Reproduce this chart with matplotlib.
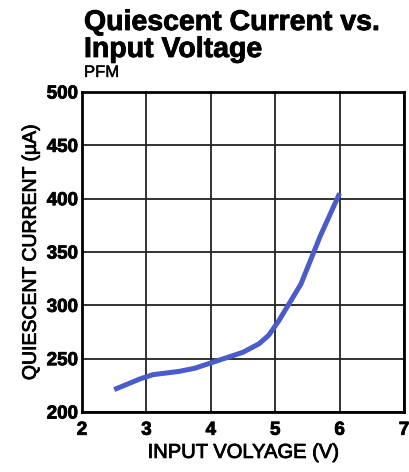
import matplotlib
matplotlib.use("Agg")
import matplotlib.pyplot as plt
import matplotlib.patheffects as pe

# input voltage (V) and quiescent current (uA)
vin = [2.5, 2.9, 3.1, 3.5, 3.75, 4.0, 4.25, 4.5, 4.75, 4.9, 5.05, 5.2, 5.4, 5.7, 6.0]
iq = [221, 231, 235, 238, 241, 246, 251, 256, 264, 272, 285, 300, 320, 365, 405]

x_ticks = [2, 3, 4, 5, 6, 7]
y_ticks = [200, 250, 300, 350, 400, 450, 500]

plt.rcParams["font.family"] = ["Liberation Sans", "DejaVu Sans"]

fig = plt.figure(figsize=(4.09, 4.72), dpi=100)
ax = fig.add_axes([82 / 409, 60 / 472, 322 / 409, 320 / 472])

ax.plot(vin, iq, color="#4a5cc9", linewidth=3.6, solid_capstyle="butt")

thick = [pe.withStroke(linewidth=0.6, foreground="black")]

ax.set_xlim(2, 7)
ax.set_ylim(200, 500)
ax.set_xticks(x_ticks, labels=[str(v) for v in x_ticks], fontweight="bold",
              fontsize=13.5, path_effects=thick)
ax.set_yticks(y_ticks, labels=[str(v) for v in y_ticks], fontweight="bold",
              fontsize=13.5, path_effects=thick)
ax.grid(True, color="#222222", linewidth=1.3)
ax.tick_params(length=0)
ax.tick_params(axis="x", pad=7)
ax.tick_params(axis="y", pad=3)
for s in ax.spines.values():
    s.set_linewidth(2)
ax.set_axisbelow(True)

ax.set_xlabel("INPUT VOLYAGE (V)", fontsize=14.5, labelpad=3, path_effects=thick)
ax.set_ylabel("QUIESCENT CURRENT (µA)", fontsize=14, labelpad=5, path_effects=thick)

fig.text(84 / 409, 1 - 30 / 472, "Quiescent Current vs.", fontsize=20.5,
         fontweight="bold", ha="left", va="baseline", path_effects=thick)
fig.text(84 / 409, 1 - 57 / 472, "Input Voltage", fontsize=20.5,
         fontweight="bold", ha="left", va="baseline", path_effects=thick)
fig.text(84 / 409, 1 - 77 / 472, "PFM", fontsize=12, ha="left", va="baseline",
         path_effects=[pe.withStroke(linewidth=0.3, foreground="black")])

fig.savefig("out.png", dpi=100)
